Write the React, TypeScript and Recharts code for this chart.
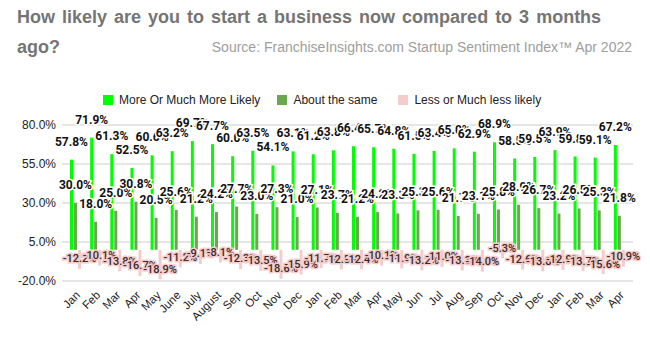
import React from "react";
import { BarChart, Bar, XAxis, YAxis, CartesianGrid, LabelList } from "recharts";

const months = [
  "Jan", "Feb", "Mar", "Apr", "May", "June", "July", "August", "Sep", "Oct", "Nov", "Dec",
  "Jan", "Feb", "Mar", "Apr", "May", "Jun", "Jul", "Aug", "Sep", "Oct", "Nov", "Dec",
  "Jan", "Feb", "Mar", "Apr",
];

const moreLikely = [
  57.8, 71.9, 61.3, 52.5, 60.6, 63.2, 69.7, 67.7, 60.0, 63.5, 54.1, 63.1,
  61.2, 63.8, 66.4, 65.7, 64.8, 61.5, 63.4, 65.0, 62.9, 68.9, 58.5, 59.5,
  63.9, 59.8, 59.1, 67.2,
];

const aboutSame = [
  30.0, 18.0, 25.0, 30.8, 20.5, 25.6, 21.2, 24.2, 27.7, 23.0, 27.3, 21.0,
  27.1, 23.7, 21.2, 24.2, 23.3, 25.3, 25.6, 21.7, 23.1, 25.8, 28.9, 26.7,
  23.2, 26.5, 25.3, 21.8,
];

const lessLikely = [
  -12.2, -10.1, -13.8, -16.7, -18.9, -11.2, -9.1, -8.1, -12.3, -13.5, -18.6, -15.9,
  -11.7, -12.5, -12.4, -10.1, -11.9, -13.2, -11.0, -13.3, -14.0, -5.3, -12.6, -13.8,
  -12.9, -13.7, -15.6, -10.9,
];

const yTicks = [-20, 5, 30, 55, 80];

const GREEN = "#00ff00";
const DARK = "#6aa84f";
const PINK = "#f4cccc";

const data = months.map((m, i) => ({
  idx: i,
  name: m,
  more: moreLikely[i],
  same: aboutSame[i],
  less: lessLikely[i],
}));

const pct = (v: number) => `${v.toFixed(1)}%`;

function TopLabel(props: any) {
  const { x, y, width, height, value } = props;
  const top = Math.min(y, y + height);
  return (
    <text
      x={x + width / 2}
      y={top - 18}
      textAnchor="middle"
      dominantBaseline="central"
      fontFamily="Roboto"
      fontWeight="bold"
      fontSize={12}
      fill="#111"
      stroke="#fff"
      strokeWidth={3}
      paintOrder="stroke"
    >
      {pct(value)}
    </text>
  );
}

function NegLabel(props: any) {
  const { x, y, width, height, value } = props;
  const bottom = Math.max(y, y + height);
  return (
    <text
      x={x + width / 2}
      y={bottom - 10}
      textAnchor="middle"
      dominantBaseline="central"
      fontFamily="Roboto"
      fontWeight={500}
      fontSize={11}
      fill="#3a2a2a"
      stroke={PINK}
      strokeWidth={3}
      paintOrder="stroke"
    >
      {pct(value)}
    </text>
  );
}

function MonthTick(props: any) {
  const { x, y, payload } = props;
  return (
    <text
      x={x + 3}
      y={y + 4}
      transform={`rotate(-45, ${x + 3}, ${y + 4})`}
      textAnchor="end"
      dominantBaseline="central"
      fontFamily="Arial"
      fontSize={11.5}
      fill="#222"
    >
      {months[payload.value]}
    </text>
  );
}

const legendItems = [
  { label: "More Or Much More Likely", color: GREEN, gap: 17 },
  { label: "About the same", color: DARK, gap: 21 },
  { label: "Less or Much less likely", color: PINK, gap: 0 },
];

export default function App() {
  return (
    <div style={{ position: "absolute", left: 0, top: 0, width: 650, height: 338, background: "#fff", fontFamily: "Arial" }}>
      <div style={{ position: "absolute", left: 17, top: 2, fontSize: 18, fontWeight: "bold", color: "#757575", lineHeight: "30px", wordSpacing: 2 }}>
        How likely are you to start a business now compared to 3 months
        <br />
        ago?
      </div>
      <div style={{ position: "absolute", right: 18, top: 39, fontSize: 14, color: "#9e9e9e" }}>
        Source: FranchiseInsights.com Startup Sentiment Index™ Apr 2022
      </div>
      <div style={{ position: "absolute", left: 103, top: 93, display: "flex", alignItems: "center", fontSize: 12, color: "#222" }}>
        {legendItems.map((it) => (
          <div key={it.label} style={{ display: "flex", alignItems: "center", marginRight: it.gap }}>
            <span style={{ display: "inline-block", width: 10, height: 10, background: it.color, marginRight: 6 }} />
            <span>{it.label}</span>
          </div>
        ))}
      </div>
      <BarChart
        width={650}
        height={338}
        data={data}
        margin={{ top: 125, right: 17, bottom: 0, left: 8 }}
        barSize={3}
        barGap={1}
      >
        <CartesianGrid vertical={false} stroke="#cccccc" />
        <XAxis
          dataKey="idx"
          type="category"
          padding={{ left: 3, right: 4 }}
          axisLine={false}
          tickLine={false}
          interval={0}
          height={57}
          tick={<MonthTick />}
        />
        <YAxis
          domain={[-20, 80]}
          ticks={yTicks}
          width={54}
          axisLine={false}
          tickLine={false}
          tickSize={0}
          tickMargin={6}
          tickFormatter={pct}
          tick={{ fill: "#222", fontSize: 12, fontFamily: "Arial" }}
        />
        <Bar dataKey="more" fill={GREEN} isAnimationActive={false}>
          <LabelList dataKey="more" content={<TopLabel />} />
        </Bar>
        <Bar dataKey="same" fill={DARK} isAnimationActive={false}>
          <LabelList dataKey="same" content={<TopLabel />} />
        </Bar>
        <Bar dataKey="less" fill={PINK} isAnimationActive={false}>
          <LabelList dataKey="less" content={<NegLabel />} />
        </Bar>
      </BarChart>
    </div>
  );
}
